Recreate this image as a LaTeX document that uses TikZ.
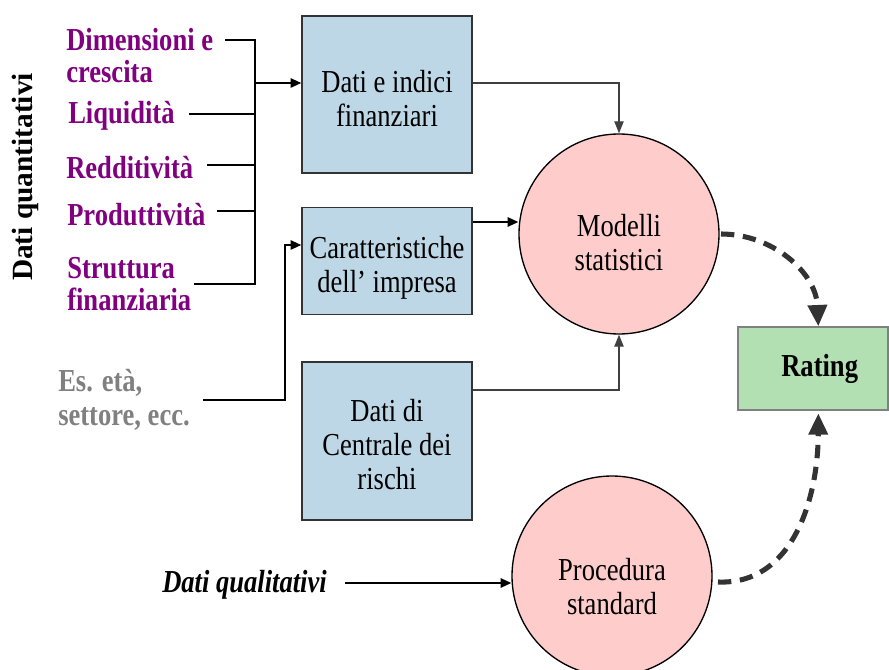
\documentclass[tikz,border=0pt]{standalone}
\usepackage{fontspec}
\setmainfont{Liberation Serif}[FakeStretch=0.83]
\newfontfamily\rotfont{Liberation Serif}
\usetikzlibrary{arrows.meta}
\definecolor{boxblue}{HTML}{BDD7E6}
\definecolor{pinkc}{HTML}{FFCCCC}
\definecolor{greenr}{HTML}{B3E0B3}
\definecolor{purp}{HTML}{800080}
\definecolor{graytxt}{HTML}{808080}
\definecolor{darkg}{HTML}{333333}
\definecolor{midg}{HTML}{404040}
\begin{document}
\begin{tikzpicture}[x=0.75pt,y=-0.75pt,
  txt/.style={font=\fontsize{24}{25.5}\selectfont,align=center},
  bluebox/.style={draw=darkg,line width=1.1pt,fill=boxblue,minimum width=127.5pt,inner sep=0pt},
  pinkcirc/.style={circle,draw=black,line width=1pt,fill=pinkc,minimum size=150pt,inner sep=0pt},
  ratebox/.style={draw=graytxt,line width=1pt,fill=greenr,minimum width=112.5pt,minimum height=62.25pt},
  lab/.style={font=\fontsize{24}{24}\selectfont\bfseries,text=purp,anchor=west,align=left,inner sep=0pt},
  conn/.style={draw=black,line width=1.3pt},
  arr/.style={conn,-{Triangle[length=8pt,width=7pt]}},
  thinarr/.style={draw=midg,line width=0.9pt,-{Triangle[length=9pt,width=7pt]}},
  dasharr/.style={draw=darkg,line width=3.8pt,dash pattern=on 10pt off 6.5pt,-{Triangle[length=16pt,width=14pt]}}]
\clip (0,0) rectangle (889,670);

% main boxes
\node[bluebox,minimum height=117.75pt,label={[txt,yshift=-3pt]center:Dati e indici\\finanziari}] (b1) at (387,94.5) {};
\node[bluebox,minimum height=80.25pt,label={[txt,yshift=-5pt]center:Caratteristiche\\dell’ impresa}] (b2) at (387,261) {};
\node[bluebox,minimum height=118.5pt,label={[txt,yshift=-3pt]center:Dati di\\Centrale dei\\rischi}] (b3) at (387,441) {};
\node[pinkcirc,label={[txt,yshift=-6.5pt]center:Modelli\\statistici}] (m) at (619,234) {};
\node[pinkcirc,label={[txt,yshift=-8pt]center:Procedura\\standard}] (p) at (612,576) {};
\node[ratebox,label={[font=\fontsize{24}{25}\selectfont\bfseries,xshift=5pt]center:Rating}] (rt) at (813,368.5) {};

% left labels
\node[font=\rotfont\fontsize{22}{22}\selectfont\bfseries,rotate=90,inner sep=0pt] (dq) at (25,177) {Dati quantitativi};
\node[lab] (l1) at (66,56) {Dimensioni e\\crescita};
\node[lab] (l2) at (68,116) {Liquidità};
\node[lab] (l3) at (66,168) {Redditività};
\node[lab] (l4) at (67,215) {Produttività};
\node[lab] (l5) at (67,284) {Struttura\\finanziaria};
\node[lab,text=graytxt,font=\fontsize{24}{25.5}\selectfont\bfseries] (es) at (58,400) {Es. età,\\settore, ecc.};
\node[font=\fontsize{24}{24}\selectfont\bfseries\itshape,anchor=west,inner sep=0pt] (ql) at (162,585) {Dati qualitativi};

% bracket of quantitative data
\coordinate (j) at (255,83);
\draw[conn] (225,40) -- (255,40) -- (255,284) -- (194,284);
\draw[conn] (189,114) -- (255,114);
\draw[conn] (207,165) -- (255,165);
\draw[conn] (217,211) -- (255,211);
\draw[arr] (j) -- (j -| b1.west);

% Es. eta line
\coordinate (e1) at (203,400);
\coordinate (e2) at (285,245);
\draw[arr] (e1) -| (e2) -- (e2 -| b2.west);

% qualitative
\coordinate (qs) at (345,583);
\draw[arr] (qs) -- (qs -| p.west);

% boxes to Modelli
\coordinate (y1) at (0,83);
\coordinate (y2) at (0,222);
\coordinate (y3) at (0,390);
\draw[thinarr] (b1.east |- y1) -| (m.north);
\draw[arr] (b2.east |- y2) -- (m.west |- y2);
\draw[thinarr] (b3.east |- y3) -| (m.south);

% dashed arrows to Rating
\draw[dasharr] ([xshift=1pt]m.east) .. controls (772,234) and (816,272) .. ([xshift=4pt]rt.north);
\draw[dasharr] ([xshift=4pt,yshift=-4.5pt]p.east) .. controls (792,585) and (818,500) .. ([xshift=4pt,yshift=-2pt]rt.south);
\end{tikzpicture}
\end{document}
